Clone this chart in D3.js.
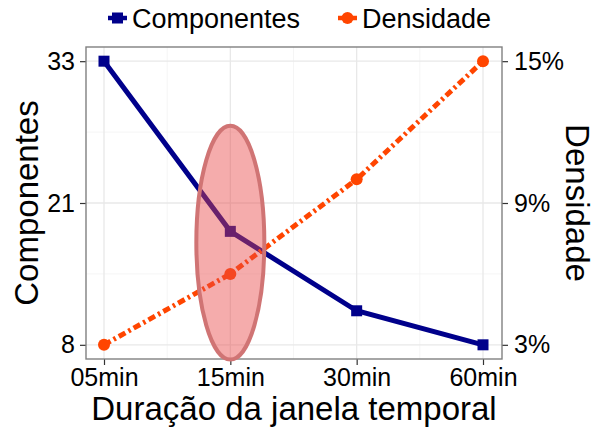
<!DOCTYPE html>
<html><head><meta charset="utf-8">
<script src="https://cdn.jsdelivr.net/npm/d3@7"></script>
<style>html,body{margin:0;padding:0;background:#fff;} svg{display:block;font-family:"Liberation Sans",Arial,Helvetica,sans-serif;}</style>
</head><body>
<svg id="c" width="599" height="427"></svg>
<script>
const categories = ["05min", "15min", "30min", "60min"];
const componentes = [33, 18, 11, 8];
const densidade = [3, 6, 10, 15];           // percent
const leftTicks = [8, 20.5, 33];
const leftTickLabels = ["8", "21", "33"];
const rightTicks = [3, 9, 15];
const rightTickLabels = ["3%", "9%", "15%"];
const seriesNames = ["Componentes", "Densidade"];
const xTitle = "Duração da janela temporal";
const highlightCategory = "15min";

const svg = d3.select("#c");
const P = {l: 86, r: 502, t: 47, b: 359};
const font = 25;

const x = d3.scalePoint().domain(categories).range([104, 483]);
function expand(lo, hi) { const e = (hi - lo) * 0.05; return [lo - e, hi + e]; }
const yL = d3.scaleLinear().domain(expand(8, 33)).range([P.b, P.t]);
const yR = d3.scaleLinear().domain(expand(3, 15)).range([P.b, P.t]);

const navy = "#00008B", orange = "#FF4500";

// panel grid
const g = svg.append("g");
const minorY = d3.pairs(leftTicks).map(([a, b]) => (a + b) / 2);
const minorX = d3.pairs(categories).map(([a, b]) => (x(a) + x(b)) / 2);
g.selectAll(".mny").data(minorY).join("line")
  .attr("x1", P.l).attr("x2", P.r).attr("y1", d => yL(d)).attr("y2", d => yL(d))
  .attr("stroke", "#f2f2f2").attr("stroke-width", 0.8);
g.selectAll(".mnx").data(minorX).join("line")
  .attr("y1", P.t).attr("y2", P.b).attr("x1", d => d).attr("x2", d => d)
  .attr("stroke", "#f2f2f2").attr("stroke-width", 0.8);
g.selectAll(".mjy").data(leftTicks).join("line")
  .attr("x1", P.l).attr("x2", P.r).attr("y1", d => yL(d)).attr("y2", d => yL(d))
  .attr("stroke", "#e8e8e8").attr("stroke-width", 1.3);
g.selectAll(".mjx").data(categories).join("line")
  .attr("y1", P.t).attr("y2", P.b).attr("x1", d => x(d)).attr("x2", d => x(d))
  .attr("stroke", "#e8e8e8").attr("stroke-width", 1.3);

// axes
const axL = d3.axisLeft(yL).tickValues(leftTicks).tickFormat((d, i) => leftTickLabels[i]).tickSize(6).tickPadding(5);
const axR = d3.axisRight(yR).tickValues(rightTicks).tickFormat((d, i) => rightTickLabels[i]).tickSize(6).tickPadding(6);
const axB = d3.axisBottom(x).tickSize(6).tickPadding(3);
function style(sel) {
  sel.select(".domain").remove();
  sel.selectAll(".tick line").attr("stroke", "#333").attr("stroke-width", 1.2);
  sel.selectAll(".tick text").attr("fill", "#000").style("font-size", font + "px")
    .style("font-family", '"Liberation Sans",Arial,sans-serif');
}
svg.append("g").attr("transform", `translate(${P.l},0)`).call(axL).call(style);
svg.append("g").attr("transform", `translate(${P.r},0)`).call(axR).call(style);
svg.append("g").attr("transform", `translate(0,${P.b})`).call(axB).call(style);

// lines
const lineL = d3.line().x((d, i) => x(categories[i])).y(d => yL(d));
const lineR = d3.line().x((d, i) => x(categories[i])).y(d => yR(d));
svg.append("path").datum(componentes).attr("d", lineL).attr("fill", "none")
  .attr("stroke", navy).attr("stroke-width", 5);
svg.append("path").datum(densidade).attr("d", lineR).attr("fill", "none")
  .attr("stroke", orange).attr("stroke-width", 5).attr("stroke-dasharray", "7.5,3.5,2.5,3.5");
svg.selectAll(".sq").data(componentes).join("rect")
  .attr("x", (d, i) => x(categories[i]) - 5.5).attr("y", d => yL(d) - 5.5)
  .attr("width", 11).attr("height", 11).attr("fill", navy);
svg.selectAll(".ci").data(densidade).join("circle")
  .attr("cx", (d, i) => x(categories[i])).attr("cy", d => yR(d)).attr("r", 6).attr("fill", orange);

// panel border
svg.append("rect").attr("x", P.l).attr("y", P.t).attr("width", P.r - P.l).attr("height", P.b - P.t)
  .attr("fill", "none").attr("stroke", "#808080").attr("stroke-width", 1.4);

// highlight ellipse
svg.append("ellipse")
  .attr("cx", x(highlightCategory)).attr("cy", yL(17))
  .attr("rx", 34).attr("ry", yL(6.7) - yL(17))
  .attr("fill", "rgba(232,72,72,0.45)").attr("stroke", "#d07474").attr("stroke-width", 4);

// axis titles
svg.append("text").attr("x", (P.l + P.r) / 2).attr("y", 420).attr("text-anchor", "middle")
  .style("font-size", "33px").text(xTitle);
svg.append("text").attr("transform", `translate(38,${(P.t + P.b) / 2}) rotate(-90)`)
  .attr("text-anchor", "middle").style("font-size", "33px").text(seriesNames[0]);
svg.append("text").attr("transform", `translate(566,${(P.t + P.b) / 2}) rotate(90)`)
  .attr("text-anchor", "middle").style("font-size", "33px").text(seriesNames[1]);

// legend
const leg = svg.append("g");
const keyX = [108, 338];
seriesNames.forEach((name, i) => {
  const col = i === 0 ? navy : orange;
  leg.append("line").attr("x1", keyX[i]).attr("x2", keyX[i] + 19).attr("y1", 18).attr("y2", 18)
    .attr("stroke", col).attr("stroke-width", 4.5);
  if (i === 0) leg.append("rect").attr("x", keyX[i] + 4).attr("y", 12.5).attr("width", 11).attr("height", 11).attr("fill", col);
  else leg.append("circle").attr("cx", keyX[i] + 9.5).attr("cy", 18).attr("r", 6).attr("fill", col);
  leg.append("text").attr("x", keyX[i] + 24).attr("y", 28).style("font-size", "27px").text(name);
});
</script>
</body></html>
